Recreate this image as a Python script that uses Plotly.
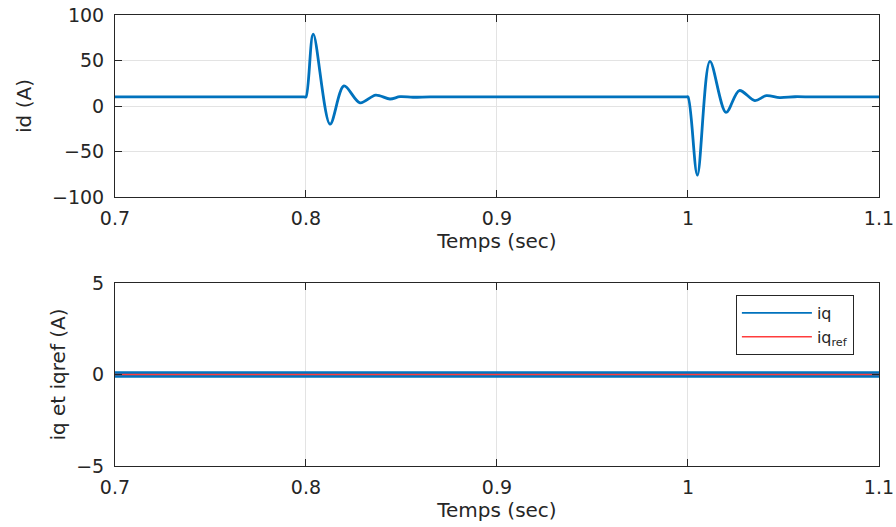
import plotly.graph_objects as go
from plotly.subplots import make_subplots

# ---- data ----
t_id = [0.7, 0.79, 0.799, 0.8, 0.8038, 0.8126, 0.8199, 0.8283, 0.8365, 0.844, 0.8492, 0.856, 0.865, 0.88,
        0.99, 0.999, 1.0, 1.0049, 1.0115, 1.0199, 1.0269, 1.035, 1.041, 1.048, 1.056, 1.065, 1.08, 1.1]
id_vals = [10, 10, 10, 10, 79, -20, 22, 3.5, 12, 7.7, 10.2, 9.6, 10, 10,
           10, 10, 10, -76, 49, -7, 17, 6, 11.3, 9.3, 10.2, 10, 10, 10]

t_q = [0.7, 1.1]
iq_vals = [0, 0]
iqref_vals = [0, 0]

x_ticks = [0.7, 0.8, 0.9, 1.0, 1.1]
x_ticklabels = ["0.7", "0.8", "0.9", "1", "1.1"]
id_ticks = [-100, -50, 0, 50, 100]
iq_ticks = [-5, 0, 5]

BLUE = "#0072BD"
RED = "#FF3C3C"
INK = "#262626"
GRID = "#E3E3E3"
FONT = "DejaVu Sans, Liberation Sans, Arial, sans-serif"

fig = make_subplots(rows=2, cols=1)

fig.add_trace(go.Scatter(x=t_id, y=id_vals, mode="lines",
                         line=dict(color=BLUE, width=2.8, shape="spline", smoothing=0.9),
                         showlegend=False), row=1, col=1)
fig.add_trace(go.Scatter(x=t_q, y=iq_vals, mode="lines", name="iq",
                         line=dict(color=BLUE, width=6.5), showlegend=False), row=2, col=1)
fig.add_trace(go.Scatter(x=t_q, y=iqref_vals, mode="lines", name="iq<sub>ref</sub>",
                         line=dict(color=RED, width=1.6), showlegend=False), row=2, col=1)
# legend entries (thin sample lines as in the reference)
fig.add_trace(go.Scatter(x=[None], y=[None], mode="lines", name="iq",
                         line=dict(color=BLUE, width=1.6)), row=2, col=1)
fig.add_trace(go.Scatter(x=[None], y=[None], mode="lines", name="iq<sub>ref</sub>",
                         line=dict(color=RED, width=1.6)), row=2, col=1)

xcommon = dict(range=[0.7, 1.1], tickvals=x_ticks, ticktext=x_ticklabels,
               showgrid=True, gridcolor=GRID, gridwidth=1, zeroline=False,
               showline=True, linecolor=INK, linewidth=1, mirror="ticks",
               ticks="inside", ticklen=7, tickcolor=INK, automargin=False,
               tickfont=dict(family=FONT, size=19, color=INK),
               ticklabelstandoff=4,
               title=dict(text="Temps (sec)", font=dict(family=FONT, size=20, color=INK), standoff=1))
ycommon = dict(showgrid=True, gridcolor=GRID, gridwidth=1, zeroline=False,
               showline=True, linecolor=INK, linewidth=1, mirror="ticks",
               ticks="inside", ticklen=7, tickcolor=INK, automargin=False,
               tickfont=dict(family=FONT, size=19, color=INK),
               ticklabelstandoff=6)

fig.update_xaxes(**xcommon, domain=[0.1283, 0.981], row=1, col=1)
fig.update_xaxes(**xcommon, domain=[0.1283, 0.981], row=2, col=1)
fig.update_yaxes(**ycommon, range=[-100, 100], tickvals=id_ticks, domain=[0.6262, 0.9715],
                 title=dict(text="id (A)", font=dict(family=FONT, size=20, color=INK), standoff=14),
                 row=1, col=1)
fig.update_yaxes(**ycommon, range=[-5, 5], tickvals=iq_ticks, domain=[0.1157, 0.463],
                 title=dict(text="iq et iqref (A)", font=dict(family=FONT, size=20, color=INK), standoff=5),
                 row=2, col=1)

fig.update_layout(
    width=896, height=527,
    margin=dict(l=0, r=0, t=0, b=0),
    paper_bgcolor="white", plot_bgcolor="white",
    showlegend=True,
    legend=dict(x=0.953, y=0.4402, xanchor="right", yanchor="top",
                bgcolor="white", bordercolor=INK, borderwidth=1,
                font=dict(family=FONT, size=16, color=INK),
                tracegroupgap=0, itemwidth=70),
)

fig.write_html("out.html", config={"displayModeBar": False},
               post_script="document.body.style.margin='0';document.body.style.overflow='hidden';")
